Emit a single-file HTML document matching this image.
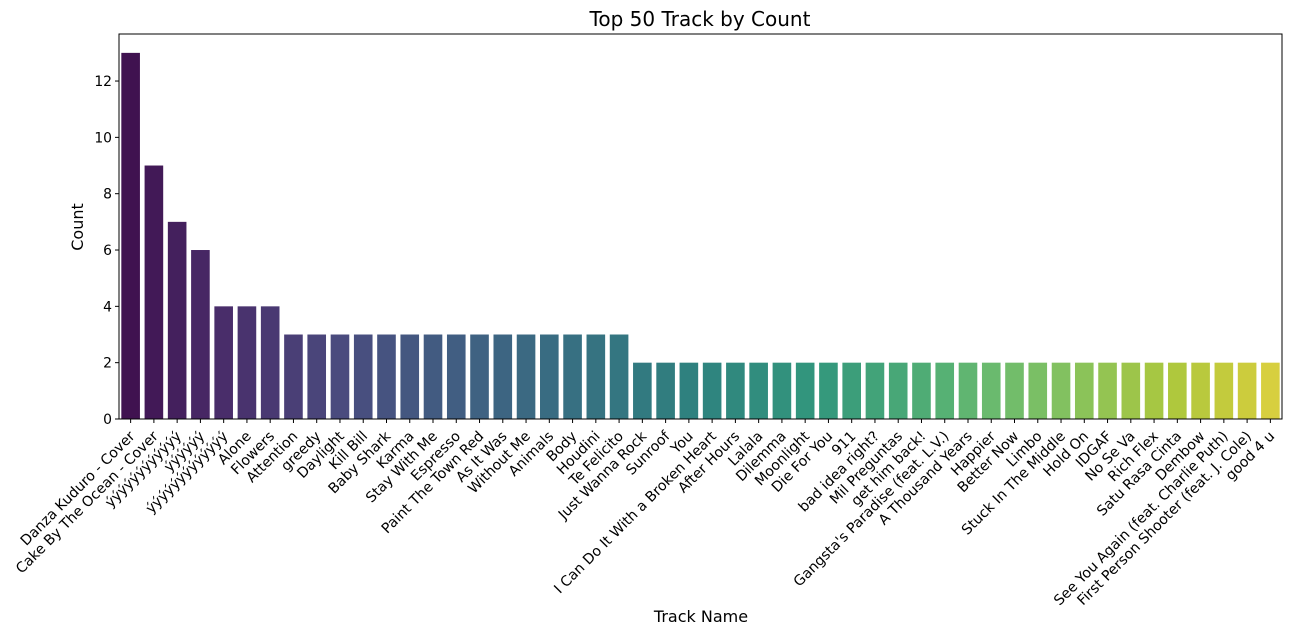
<!DOCTYPE html>
<html><head><meta charset="utf-8"><style>
body{margin:0;background:#fff;}
text{font-family:"DejaVu Sans","Liberation Sans",sans-serif;fill:#000;}
</style></head><body>
<svg id="chart" width="1291" height="635" xmlns="http://www.w3.org/2000/svg">
<text x="700" y="26" font-size="20" text-anchor="middle">Top 50 Track by Count</text>
<text x="701" y="622" font-size="16" text-anchor="middle">Track Name</text>
<text transform="translate(83,227) rotate(-90)" font-size="16" text-anchor="middle">Count</text>
<g id="bars"></g><g id="xt"></g><g id="yt"></g>
<rect x="119" y="34" width="1163" height="385" fill="none" stroke="#000" stroke-width="1"/>
</svg>
<script>
const categories=["Danza Kuduro - Cover","Cake By The Ocean - Cover","ýýýýýýýýýýýý","ýýýýýý","ýýýýýýýýýýýýý","Alone","Flowers","Attention","greedy","Daylight","Kill Bill","Baby Shark","Karma","Stay With Me","Espresso","Paint The Town Red","As It Was","Without Me","Animals","Body","Houdini","Te Felicito","Just Wanna Rock","Sunroof","You","I Can Do It With a Broken Heart","After Hours","Lalala","Dilemma","Moonlight","Die For You","911","bad idea right?","Mil Preguntas","get him back!","Gangsta's Paradise (feat. L.V.)","A Thousand Years","Happier","Better Now","Limbo","Stuck In The Middle","Hold On","IDGAF","No Se Va","Rich Flex","Satu Rasa Cinta","Dembow","See You Again (feat. Charlie Puth)","First Person Shooter (feat. J. Cole)","good 4 u"];
const counts=[13,9,7,6,4,4,4,3,3,3,3,3,3,3,3,3,3,3,3,3,3,3,2,2,2,2,2,2,2,2,2,2,2,2,2,2,2,2,2,2,2,2,2,2,2,2,2,2,2,2];
const yTicks=[0,2,4,6,8,10,12];
const L=119,R=1282,T=34,B=419,YMAX=13.67;
const NS="http://www.w3.org/2000/svg";
const slot=(R-L)/categories.length;
const xPos=i=>L+slot*(i+0.5);
const yPos=v=>B-v/YMAX*(B-T);
const vir=["#440154","#482475","#414487","#355f8d","#2a788e","#21918c","#22a884","#44bf70","#7ad151","#bddf26","#fde725"];
function hex(h){return [1,3,5].map(k=>parseInt(h.substr(k,2),16)/255);}
function viridis(t){const p=t*10,i=Math.min(9,Math.floor(p)),f=p-i;const a=hex(vir[i]),b=hex(vir[i+1]);return a.map((v,k)=>v+(b[k]-v)*f);}
function desat(c,s){const mx=Math.max(...c),mn=Math.min(...c),l=(mx+mn)/2;return c.map(v=>l+(v-l)*s);}
function css(c){return "rgb("+c.map(v=>Math.round(Math.max(0,Math.min(1,v))*255)).join(",")+")";}
const gb=document.getElementById("bars"),gx=document.getElementById("xt"),gy=document.getElementById("yt");
categories.forEach((c,i)=>{
 const t=(i+1)/(categories.length+1);
 const r=document.createElementNS(NS,"rect");
 const w=slot*0.8;
 r.setAttribute("x",xPos(i)-w/2);r.setAttribute("width",w);
 r.setAttribute("y",yPos(counts[i]));r.setAttribute("height",B-yPos(counts[i]));
 r.setAttribute("fill",css(desat(viridis(t),0.75)));
 
 
 gb.appendChild(r);
 const tk=document.createElementNS(NS,"line");
 tk.setAttribute("x1",xPos(i));tk.setAttribute("x2",xPos(i));tk.setAttribute("y1",B);tk.setAttribute("y2",B+4);tk.setAttribute("stroke","#000");
 
 
 gx.appendChild(tk);
 const tx=document.createElementNS(NS,"text");
 tx.setAttribute("font-size","14.2");tx.setAttribute("text-anchor","end");
 tx.setAttribute("transform","translate("+(xPos(i)+5)+","+(B+18)+") rotate(-45)");
 tx.textContent=c;
 
 
 gx.appendChild(tx);
});
yTicks.forEach(v=>{
 const y=yPos(v);
 const tk=document.createElementNS(NS,"line");
 tk.setAttribute("x1",L-4);tk.setAttribute("x2",L);tk.setAttribute("y1",y);tk.setAttribute("y2",y);tk.setAttribute("stroke","#000");
 
 
 gy.appendChild(tk);
 const tx=document.createElementNS(NS,"text");
 tx.setAttribute("x",L-7);tx.setAttribute("y",y+5);tx.setAttribute("font-size","13.9");tx.setAttribute("text-anchor","end");
 tx.textContent=v;
 
 
 gy.appendChild(tx);
});
</script>
</body></html>
